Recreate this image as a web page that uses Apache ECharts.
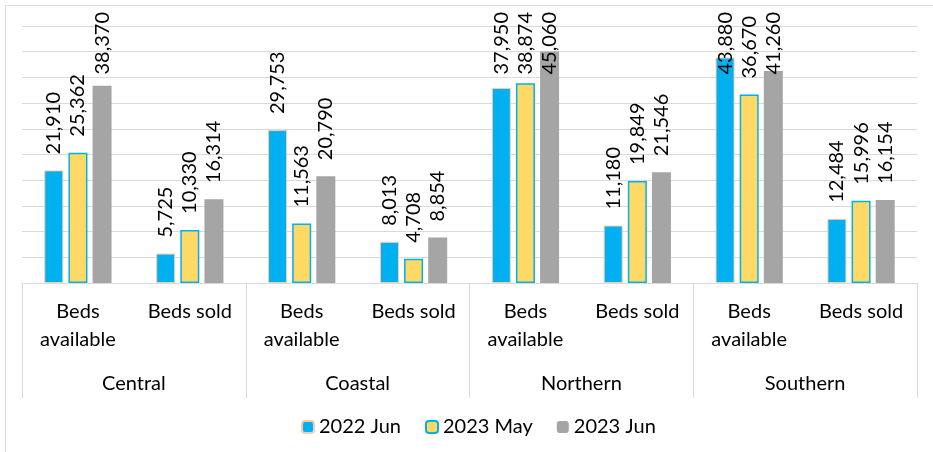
<!DOCTYPE html>
<html>
<head>
<meta charset="utf-8">
<script src="https://cdn.jsdelivr.net/npm/echarts@6/dist/echarts.min.js"></script>
<style>html,body{margin:0;padding:0;background:#fff}#c{width:933px;height:452px}</style>
</head>
<body>
<div id="c"></div>
<script>
const measures = ['Beds\navailable', 'Beds sold'];
const regions = ['Central', 'Coastal', 'Northern', 'Southern'];
const seriesNames = ['2022 Jun', '2023 May', '2023 Jun'];
const jun2022 = [21910, 5725, 29753, 8013, 37950, 11180, 43880, 12484];
const may2023 = [25362, 10330, 11563, 4708, 38874, 19849, 36670, 15996];
const jun2023 = [38370, 16314, 20790, 8854, 45060, 21546, 41260, 16154];

const categories = [];
regions.forEach(() => measures.forEach(m => categories.push(m)));

const FONT = 'Lato';
const LABEL_SIZE = 20;
const LABEL_GAP = 16;
const LABEL_MIN_TOP = 12;
const BAR_W = 19;
const fills = ['#00B0F0', '#FFD966', '#A5A5A5'];
const borders = ['#F8CBAD', '#00B0F0', '#A5A5A5'];
const borderWidths = [1, 1.5, 0];
const values = [jun2022, may2023, jun2023];
const fmt = v => v.toLocaleString('en-US');

const chart = echarts.init(document.getElementById('c'));
const baseLabel = {
  show: true, position: 'top', rotate: 90, distance: LABEL_GAP,
  align: 'left', verticalAlign: 'middle',
  fontFamily: FONT, fontSize: LABEL_SIZE, color: '#000',
  formatter: p => fmt(p.value)
};
chart.setOption({
  animation: false,
  graphic: [{
    type: 'rect', silent: true,
    shape: { x: 5.5, y: 5.5, width: 1200, height: 1200 },
    style: { fill: 'none', stroke: '#D9D9D9', lineWidth: 1 }
  }],
  grid: { left: 22, right: 16, top: 26, bottom: 169 },
  legend: {
    left: 296, top: 412,
    itemWidth: 12, itemHeight: 12, itemGap: 24,
    textStyle: { fontFamily: FONT, fontSize: 20, color: '#000' },
    data: seriesNames
  },
  xAxis: [{
    type: 'category', data: categories, position: 'bottom',
    axisLine: { show: true, lineStyle: { color: '#D9D9D9', width: 1 } },
    axisTick: { show: false },
    axisLabel: { interval: 0, margin: 15, fontFamily: FONT, fontSize: 20, color: '#000', lineHeight: 28, align: 'center' }
  }, {
    type: 'category', data: regions, position: 'bottom', offset: 0,
    axisLine: { show: false },
    axisTick: { show: true, length: 115, lineStyle: { color: '#D9D9D9', width: 1 } },
    axisLabel: { interval: 0, margin: 91, fontFamily: FONT, fontSize: 20, color: '#000', lineHeight: 20 }
  }],
  yAxis: {
    type: 'value', min: 0, max: 50000, interval: 5000,
    axisLabel: { show: false }, axisLine: { show: false }, axisTick: { show: false },
    splitLine: { lineStyle: { color: '#D9D9D9', width: 1 } }
  },
  series: seriesNames.map((name, i) => ({
    name, type: 'bar', xAxisIndex: 0, data: values[i],
    barWidth: BAR_W, barGap: '27%',
    itemStyle: { color: fills[i], borderColor: borders[i], borderWidth: borderWidths[i] },
    label: baseLabel
  }))
});

// Keep labels inside the chart area (like the original): push overflowing labels down.
const ctx = document.createElement('canvas').getContext('2d');
ctx.font = LABEL_SIZE + 'px ' + FONT;
chart.setOption({
  series: values.map(vals => ({
    data: vals.map(v => {
      const topY = chart.convertToPixel({ yAxisIndex: 0 }, v);
      const len = ctx.measureText(fmt(v)).width;
      const naturalTop = topY - LABEL_GAP - len;
      if (naturalTop >= LABEL_MIN_TOP) return v;
      const bottom = LABEL_MIN_TOP + len;
      return { value: v, label: { position: [BAR_W / 2, bottom - topY] } };
    })
  }))
});
</script>
</body>
</html>
